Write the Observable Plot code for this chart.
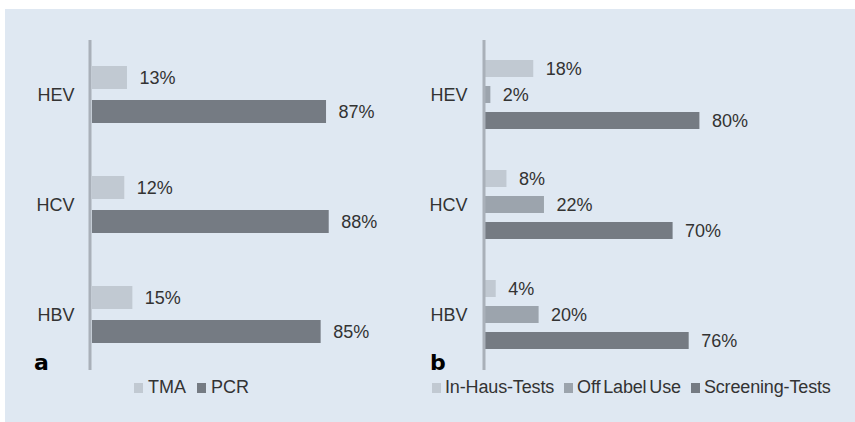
<!DOCTYPE html>
<html>
<head>
<meta charset="utf-8">
<script src="https://cdn.jsdelivr.net/npm/d3@7"></script>
<script src="https://cdn.jsdelivr.net/npm/@observablehq/plot@0.6"></script>
<style>
  html, body { margin: 0; padding: 0; background: #fff; }
  #wrap { position: relative; width: 855px; height: 422px; background: #fff; overflow: hidden; font-family: "Liberation Sans", Arial, sans-serif; color: #333; }
  #bg { position: absolute; left: 5px; top: 9px; right: 0; bottom: 0; background: #dfe8f2; }
  .panel { position: absolute; top: 0; }
  .letter { position: absolute; font-family: "DejaVu Sans", sans-serif; font-weight: bold; font-size: 22px; line-height: 22px; color: #000; }
  .legend { position: absolute; top: 378px; font-size: 18px; line-height: 18px; white-space: nowrap; color: #333; }
  .legend .item { display: inline-block; margin-right: 11px; }
  .legend .sw { display: inline-block; width: 9px; height: 10px; margin-right: 5px; vertical-align: baseline; }
  .legend.tight { word-spacing: -2px; letter-spacing: -0.15px; }
  .legend.tight .item { margin-right: 10px; }
  .legend.tight .sw { margin-right: 4px; }
</style>
</head>
<body>
<div id="wrap">
  <div id="bg"></div>
</div>
<script>
// ---- data ----
const viruses = ["HEV", "HCV", "HBV"];

const seriesA = ["TMA", "PCR"];
const tmaValues = [13, 12, 15];
const pcrValues = [87, 88, 85];

const seriesB = ["In-Haus-Tests", "Off Label Use", "Screening-Tests"];
const inHausValues = [18, 8, 4];
const offLabelValues = [2, 22, 20];
const screeningValues = [80, 70, 76];

const colorsA = ["#c1c9d2", "#757b83"];
const colorsB = ["#c1c9d2", "#9ca4ad", "#757b83"];

// ---- build tables ----
function table(series, valueArrays) {
  const rows = [];
  viruses.forEach((v, i) => {
    series.forEach((s, j) => rows.push({virus: v, series: s, value: valueArrays[j][i]}));
  });
  return rows;
}
const dataA = table(seriesA, [tmaValues, pcrValues]);
const dataB = table(seriesB, [inHausValues, offLabelValues, screeningValues]);

const textStyle = {background: "transparent", fontSize: "18px", fontFamily: "Liberation Sans, Arial, sans-serif", color: "#333", overflow: "visible"};

function panel({data, series, colors, width, marginLeft, marginRight, paddingInner, paddingOuter, ruleDx}) {
  return Plot.plot({
    width, height: 400,
    marginTop: 40, marginBottom: 30, marginLeft, marginRight,
    style: textStyle,
    x: {domain: [0, 100], axis: null},
    y: {domain: series, axis: null, paddingInner, paddingOuter},
    fy: {domain: viruses, padding: 0, axis: "left", tickSize: 0, tickPadding: 18, label: null},
    color: {domain: series, range: colors},
    marks: [
      Plot.barX(data, {x: "value", y: "series", fy: "virus", fill: "series"}),
      Plot.text(data, {x: "value", y: "series", fy: "virus", text: d => d.value + "%", textAnchor: "start", dx: 12, fill: "#333", fontSize: 18}),
      Plot.ruleX([0], {stroke: "#a9b0b9", strokeWidth: 3, dx: ruleDx})
    ]
  });
}

const wrap = document.getElementById("wrap");

const pa = panel({data: dataA, series: seriesA, colors: colorsA, width: 420, marginLeft: 92, marginRight: 59, paddingInner: 0.32, paddingOuter: 0.755, ruleDx: -2.5});
pa.classList.add("panel"); pa.style.left = "0px";
wrap.appendChild(pa);

const pb = panel({data: dataB, series: seriesB, colors: colorsB, width: 435, marginLeft: 65, marginRight: 102, paddingInner: 0.34, paddingOuter: 0.745, ruleDx: -1.5});
pb.classList.add("panel"); pb.style.left = "420px";
wrap.appendChild(pb);

// letters
function letter(t, left, top) {
  const d = document.createElement("div");
  d.className = "letter"; d.textContent = t;
  d.style.left = left + "px"; d.style.top = top + "px";
  wrap.appendChild(d);
}
letter("a", 34, 352);
letter("b", 430, 352);

// legends
function legend(series, colors, left, extraClass) {
  const d = document.createElement("div");
  d.className = "legend" + (extraClass ? " " + extraClass : ""); d.style.left = left + "px";
  series.forEach((s, i) => {
    const it = document.createElement("span"); it.className = "item";
    const sw = document.createElement("span"); sw.className = "sw"; sw.style.background = colors[i];
    it.appendChild(sw);
    it.appendChild(document.createTextNode(s));
    d.appendChild(it);
  });
  wrap.appendChild(d);
}
legend(seriesA, colorsA, 134);
legend(seriesB, colorsB, 432, "tight");
</script>
</body>
</html>
